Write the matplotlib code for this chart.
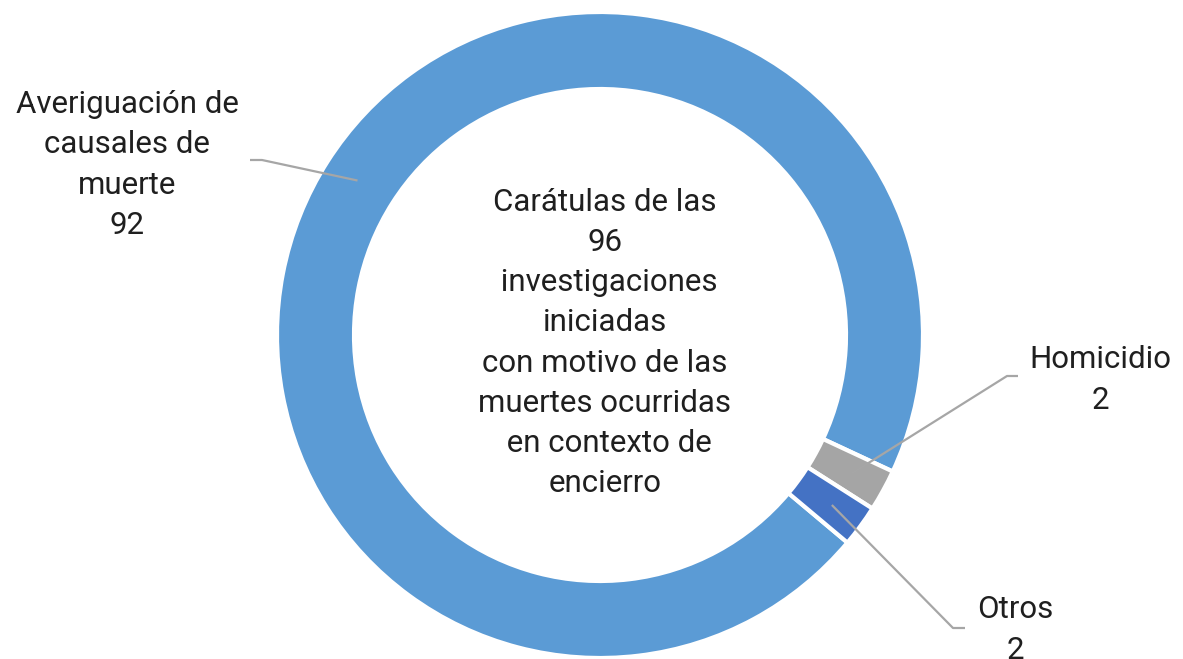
import matplotlib.pyplot as plt
import numpy as np

categorias = ['Averiguación de\ncausales de\nmuerte', 'Homicidio', 'Otros']
valores = [92, 2, 2]
colores = ['#5B9BD5', '#A5A5A5', '#4472C4']
titulo_centro = ('Carátulas de las\n96\n investigaciones\niniciadas\n'
                 'con motivo de las\nmuertes ocurridas\n en contexto de\nencierro')

W, H = 1183, 659
fig = plt.figure(figsize=(W / 100, H / 100), dpi=100)
ax = fig.add_axes([0, 0, 1, 1])

cx, cy = 600, H - 335   # centro de la dona
R, ancho = 323, 77

wedges, _ = ax.pie(valores, colors=colores, startangle=-40, counterclock=False,
                   radius=R, center=(cx, cy),
                   wedgeprops=dict(width=ancho, edgecolor='white', linewidth=3))

ax.set_xlim(0, W)
ax.set_ylim(0, H)
ax.set_aspect('equal')
ax.axis('off')

fuente = dict(family=['Roboto', 'DejaVu Sans'], fontsize=22.5, color='#1f1f1f',
              ha='center', va='center', linespacing=1.48)

# texto central
ax.text(cx + 5, cy - 8, titulo_centro, **fuente)

# etiquetas con líneas guía: (codo x, codo y, fin horizontal x, texto x, texto y)
guias = [
    (262, H - 160, 250, 127, H - 165),
    (1007, H - 376, 1018, 1100, H - 380),
    (953, H - 628, 965, 1015, H - 630),
]
r_mid = R - ancho / 2 + 3
for w, cat, val, (ex, ey, hx, tx, ty) in zip(wedges, categorias, valores, guias):
    ang = np.deg2rad((w.theta1 + w.theta2) / 2)
    ax0 = cx + r_mid * np.cos(ang)
    ay0 = cy + r_mid * np.sin(ang)
    ax.plot([ax0, ex, hx], [ay0, ey, ey], color='#A6A6A6', lw=1.6,
            solid_capstyle='butt')
    ax.text(tx, ty, f'{cat}\n{val}', **fuente)

fig.savefig('out.png', dpi=100)
